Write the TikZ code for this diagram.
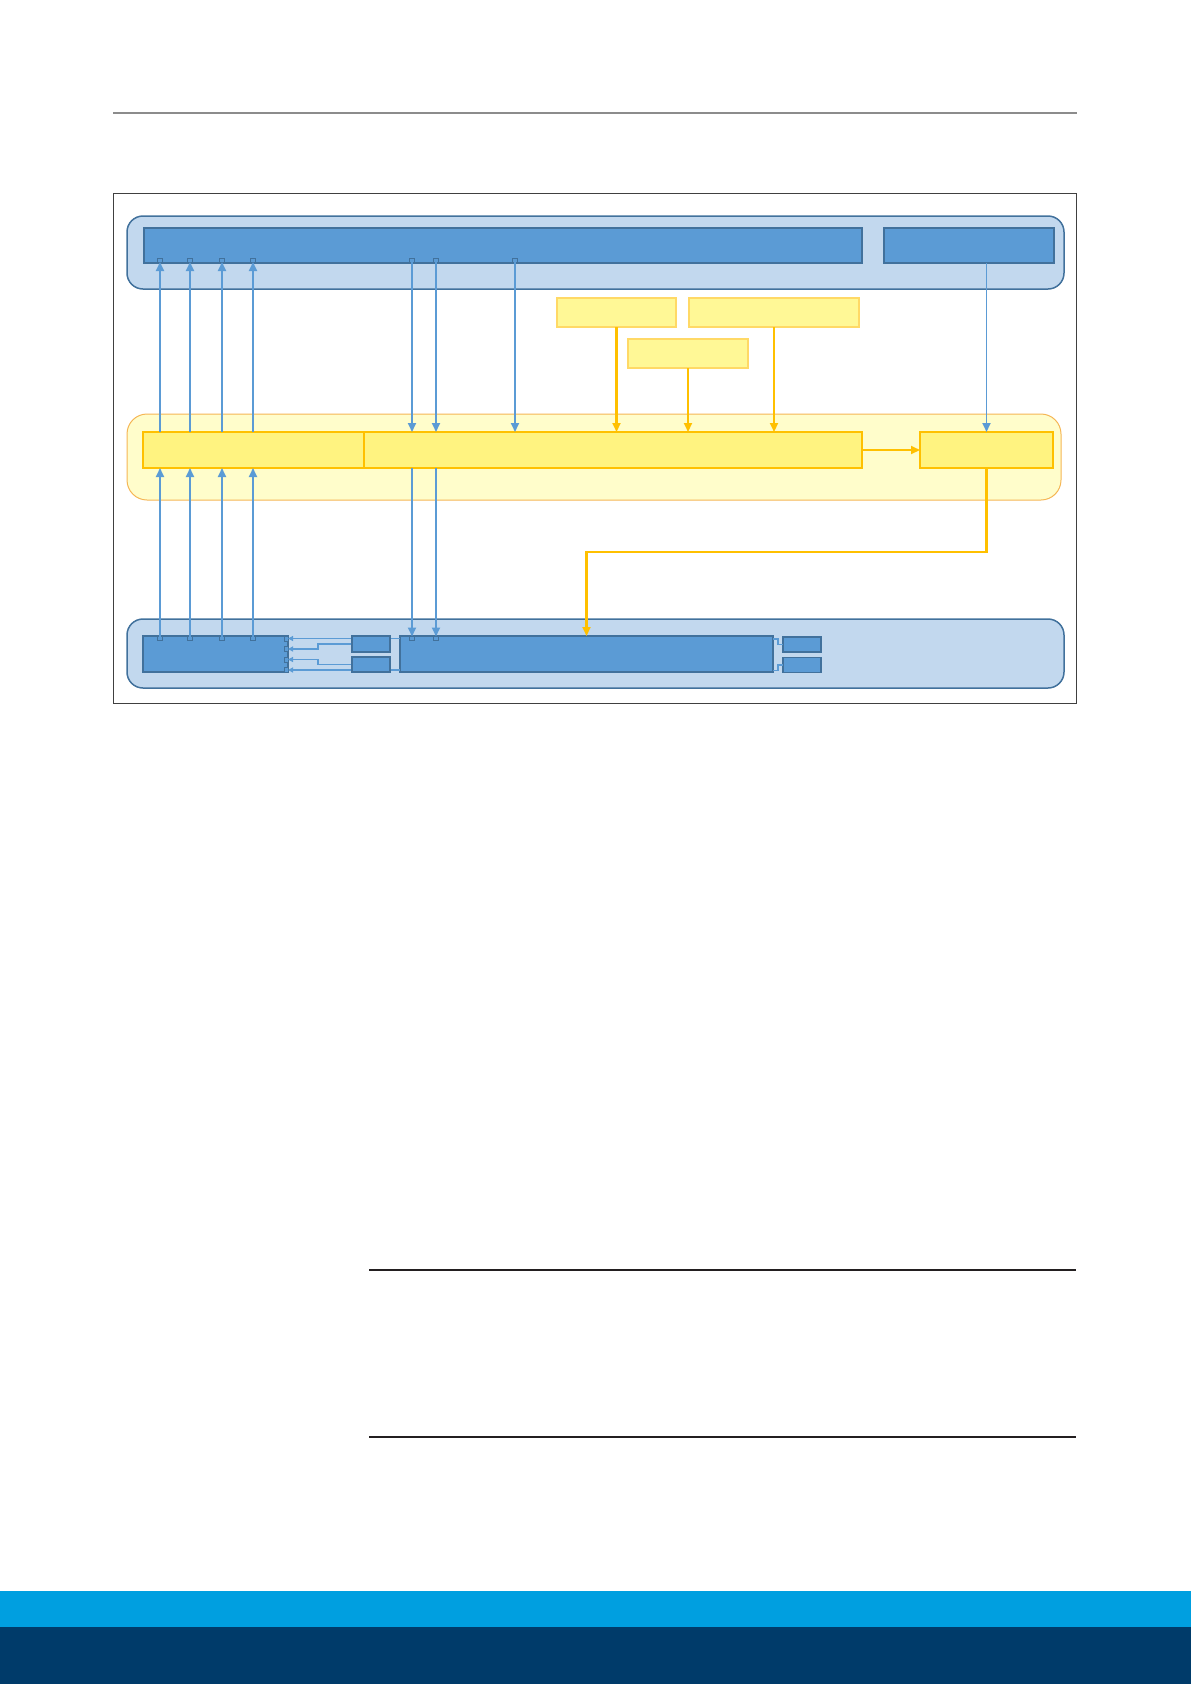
\documentclass[tikz,border=0pt]{standalone}
\usetikzlibrary{arrows.meta}
\definecolor{cBlueLight}{RGB}{194,216,238}
\definecolor{cBlueDark}{RGB}{65,113,156}
\definecolor{cBlue}{RGB}{91,155,213}
\definecolor{cYelLight}{RGB}{255,253,203}
\definecolor{cOrLight}{RGB}{245,182,85}
\definecolor{cYel}{RGB}{255,243,128}
\definecolor{cOr}{RGB}{255,192,0}
\definecolor{cYelSrc}{RGB}{255,248,150}
\definecolor{cYelSrcB}{RGB}{255,217,102}
\definecolor{cFootA}{RGB}{0,159,224}
\definecolor{cFootB}{RGB}{0,59,106}
\definecolor{cRule}{RGB}{35,31,32}
\tikzset{
  box/.style={rectangle, inner sep=0pt, outer sep=0pt},
  bcont/.style={box, rounded corners=16pt, fill=cBlueLight, draw=cBlueDark, line width=1.5pt},
  bbox/.style={box, fill=cBlue, draw=cBlueDark, line width=1.3pt},
  ycont/.style={box, rounded corners=20pt, fill=cYelLight, draw=cOrLight, line width=1pt},
  ybox/.style={box, fill=cYel, draw=cOr, line width=1.8pt},
  ysrc/.style={box, fill=cYelSrc, draw=cYelSrcB, line width=1.2pt},
  port/.style={box, fill=cBlue, draw=cBlueDark, line width=0.6pt, minimum width=5pt, minimum height=4pt},
  rport/.style={box, fill=cBlue, draw=cBlueDark, line width=0.6pt, minimum width=4pt, minimum height=5pt},
  barrow/.style={draw=cBlue, line width=1.8pt, -{Triangle[length=9pt,width=8pt]}},
  oarrow/.style={draw=cOr, line width=2.1pt, -{Triangle[length=9pt,width=8pt]}},
  sarrow/.style={draw=cBlue, line width=1.4pt, -{Triangle[length=5pt,width=5pt]}},
  sline/.style={draw=cBlue, line width=1.3pt},
}
\begin{document}
\begin{tikzpicture}[x=1pt,y=-1pt]
\useasboundingbox (0,0) rectangle (1191,1684);
% page decorations
\draw[color=gray!90, line width=1.2pt] (113,113) -- (1077,113);
\draw[color=cRule, line width=1.5pt] (369,1270) -- (1076,1270);
\draw[color=cRule, line width=1.5pt] (369,1437) -- (1076,1437);
\fill[cFootA] (0,1591) rectangle (1191,1628);
\fill[cFootB] (0,1627) rectangle (1191,1684);
% frame
\draw[color=black!75, line width=1pt] (113,193) rectangle (1076,703);

% containers
\node[bcont, minimum width=937pt, minimum height=73pt] (topc) at (595.5,252.5) {};
\node[ycont, minimum width=934pt, minimum height=86pt] (midc) at (594,457) {};
\node[bcont, minimum width=937pt, minimum height=69pt] (botc) at (595.5,653.5) {};

% top boxes
\node[bbox, minimum width=718pt, minimum height=35pt] (tb) at (503,245.5) {};
\node[bbox, minimum width=170pt, minimum height=35pt] (tr) at (969,245.5) {};

% source boxes
\node[ysrc, minimum width=119pt, minimum height=29pt] (sa) at (616.5,312.5) {};
\node[ysrc, minimum width=170pt, minimum height=29pt] (sb) at (774,312.5) {};
\node[ysrc, minimum width=120pt, minimum height=29pt] (sc) at (688,353.5) {};

% middle boxes
\node[ybox, minimum width=221pt, minimum height=36pt] (yl) at (253.5,450) {};
\node[ybox, minimum width=498pt, minimum height=36pt] (ym) at (613,450) {};
\node[ybox, minimum width=133pt, minimum height=36pt] (yr) at (986.5,450) {};

% bottom boxes
\node[bbox, minimum width=145pt, minimum height=36pt] (bl) at (215.5,654) {};
\node[bbox, minimum width=38pt, minimum height=16pt] (s1) at (371,644) {};
\node[bbox, minimum width=38pt, minimum height=15pt] (s2) at (371,664.5) {};
\node[bbox, minimum width=373pt, minimum height=36pt] (bm) at (586.5,654) {};
\node[bbox, minimum width=38pt, minimum height=15pt] (r1) at (802,644.5) {};
\node[bbox, minimum width=38pt, minimum height=15pt] (r2) at (802,665) {};

% ports on top box
\foreach \n/\x in {1/160,2/190,3/222,4/253,5/412,6/436,7/515}
  \node[port] (pt\n) at (\x,260) {};
% ports on bottom boxes
\foreach \n/\x in {1/160,2/190,3/222,4/253}
  \node[port] (pb\n) at (\x,638.5) {};
\node[port] (pm1) at (412,638.5) {};
\node[port] (pm2) at (436,638.5) {};
\foreach \n/\y in {1/638.5,2/649,3/659.5,4/670}
  \node[rport] (pr\n) at (286,\y) {};

% blue upward arrows
\foreach \n in {1,2,3,4} {
  \draw[barrow] (pb\n.north) -- (pb\n.north |- yl.south);
  \draw[barrow] (pt\n.south |- yl.north) -- (pt\n.south);
}
% blue downward arrows
\foreach \n in {5,6,7}
  \draw[barrow] (pt\n.south) -- (pt\n.south |- ym.north);
\draw[barrow] (pm1.north |- ym.south) -- (pm1.north);
\draw[barrow] (pm2.north |- ym.south) -- (pm2.north);
\draw[barrow] (yr.north |- tr.south) -- (yr.north);

% orange arrows
\draw[oarrow] (sa.south) -- (sa.south |- ym.north);
\draw[oarrow] (sc.south) -- (sc.south |- ym.north);
\draw[oarrow] (sb.south) -- (sb.south |- ym.north);
\draw[oarrow] (ym.east) -- (yr.west);
\coordinate (elb) at (586.5,552);
\draw[oarrow] (yr.south) |- (elb) -- (bm.north);

% bottom internal connectors
\coordinate (bmw1) at (400,638.5);
\coordinate (bmw4) at (400,670);
\draw[sarrow] (bmw1) -- (pr1.east);
\draw[sarrow] (s1.west) -- ++(-34,0) |- (pr2.east);
\draw[sarrow] (s2.west) -- ++(-34,0) |- (pr3.east);
\draw[sarrow] (bmw4) -- (pr4.east);
\node[bbox, minimum width=38pt, minimum height=16pt] at (s1) {};
\node[bbox, minimum width=38pt, minimum height=15pt] at (s2) {};
\coordinate (bme1) at (773,639);
\coordinate (bme2) at (773,670.5);
\draw[sline] (bme1) -- ++(5,0) |- (r1.west);
\draw[sline] (bme2) -- ++(5,0) |- (r2.west);
\end{tikzpicture}
\end{document}
